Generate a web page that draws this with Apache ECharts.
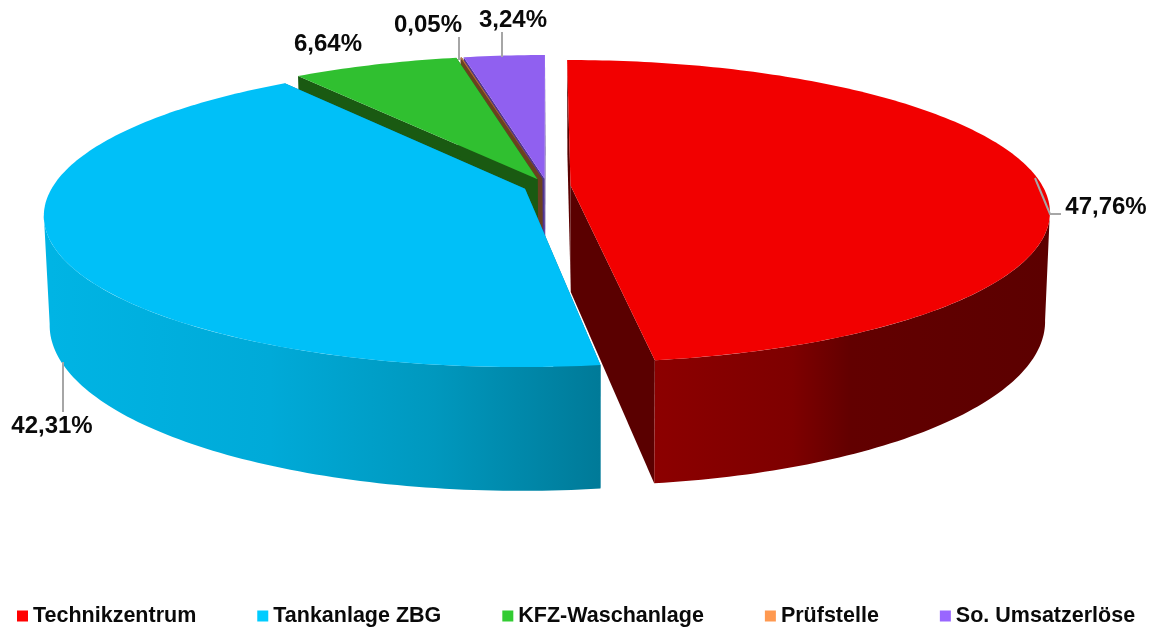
<!DOCTYPE html>
<html>
<head>
<meta charset="utf-8">
<style>html,body{margin:0;padding:0;background:#fff}#c{width:1160px;height:632px}</style>
<script src="https://cdn.jsdelivr.net/npm/echarts@6/dist/echarts.min.js"></script>
</head>
<body>
<div id="c"></div>
<script>
// ---- data ----
const categories = ['Technikzentrum', 'Tankanlage ZBG', 'KFZ-Waschanlage', 'Prüfstelle', 'So. Umsatzerlöse'];
const shares = [47.76, 42.31, 6.64, 0.05, 3.24];
const shareLabels = ['47,76%', '42,31%', '6,64%', '0,05%', '3,24%'];

// ---- styling ----
const legendColors = ['#FF0000', '#00CCFF', '#33CC33', '#FF9950', '#9966FF'];
const topColors = ['#F20000', '#00C0F8', '#30C030', '#B87038', '#9060F0'];
const faceColors = ['#5A0000', '#007A98', '#1A5A12', '#6A4020', '#503490'];
const sideStops = [
  [[0, '#8C0000'], [0.35, '#7E0000'], [0.5, '#620000'], [1, '#5C0000']],
  [[0, '#00B4E4'], [0.4, '#00AAD8'], [0.7, '#0098BE'], [1, '#007A98']],
  [[0, '#1A5A12'], [1, '#1A5A12']],
  [[0, '#6A4020'], [1, '#6A4020']],
  [[0, '#503490'], [1, '#503490']]
];
const sideSpan = [[655, 1047], [50, 600], [290, 540], [450, 545], [460, 546]];
const zBySlice = [4, 5, 3, 2, 1];

// ---- projection of the tilted disc (perspective), explode in disc radii ----
const explode = 0.05;
const topDisc = {cx: 547, cy: 186, rx: 472, ry: 147, k: 0.17};
const botDisc = {cx: 547.5, cy: 292.5, rx: 467, ry: 161, k: 0.17};

// ---- label layout: text anchor and leader line ----
const labelPos = [[1106, 207], [52, 426], [328, 44], [428, 25], [513, 20]];
const leaders = [
  [[1035, 178], [1050, 214], [1061, 214]],
  [[63, 362], [63, 412]],
  [],
  [[459, 37], [459, 60]],
  [[502, 32], [502, 57]]
];

const total = shares.reduce((a, b) => a + b, 0);
const starts = [];
shares.reduce((acc, v, i) => { starts[i] = acc; return acc + v; }, 0);

// u: right, v: back, both in disc radii
function project(d, u, v) {
  const w = 1 + d.k * v;
  return [d.cx + d.rx * u / w, d.cy - d.ry * v / w];
}
function shift(i, value) {
  const mid = (starts[i] + value / 2) / total * 2 * Math.PI;
  return [explode * Math.sin(mid), explode * Math.cos(mid)];
}
function arc(d, off, a0, a1) {
  const n = Math.max(2, Math.ceil(Math.abs(a1 - a0))), out = [];
  for (let j = 0; j <= n; j++) {
    const t = (a0 + (a1 - a0) * j / n) * Math.PI / 180;
    out.push(project(d, off[0] + Math.sin(t), off[1] + Math.cos(t)));
  }
  return out;
}
function poly(points, fill) {
  return {type: 'polygon', shape: {points}, silent: true, style: {fill, stroke: null}};
}
function renderSlice(i) {
  return function (params, api) {
    const value = api.value(0);
    const a0 = starts[i] / total * 360, a1 = (starts[i] + value) / total * 360;
    const off = shift(i, value);
    const topApex = project(topDisc, off[0], off[1]);
    const botApex = project(botDisc, off[0], off[1]);
    const topArc = arc(topDisc, off, a0, a1), botArc = arc(botDisc, off, a0, a1);
    const kids = [];
    // cut faces
    [[topArc[0], botArc[0]], [topArc[topArc.length - 1], botArc[botArc.length - 1]]].forEach(e => {
      kids.push(poly([topApex, e[0], e[1], botApex], faceColors[i]));
    });
    // curved wall: only the part that faces the viewer, closing the silhouette
    const limit = Math.acos(-topDisc.k) * 180 / Math.PI;
    const wa = Math.max(a0, limit), wb = Math.min(a1, 360 - limit);
    if (wb > wa) {
      kids.push(poly(arc(topDisc, off, wa, wb).concat(arc(botDisc, off, wa, wb).reverse()), {
        type: 'linear', global: true,
        x: sideSpan[i][0], y: 0, x2: sideSpan[i][1], y2: 0,
        colorStops: sideStops[i].map(s => ({offset: s[0], color: s[1]}))
      }));
    }
    // top face
    kids.push(poly([topApex].concat(topArc), topColors[i]));
    // leader
    if (leaders[i].length) {
      kids.push({type: 'polyline', shape: {points: leaders[i]},
        style: {fill: null, stroke: '#A6A6A6', lineWidth: 2}, silent: true});
    }
    // value label
    kids.push({type: 'text', silent: true, style: {
      x: labelPos[i][0], y: labelPos[i][1], text: shareLabels[i],
      fill: '#0A0A0A', font: 'bold 24px "Liberation Sans", Arial, sans-serif',
      align: 'center', verticalAlign: 'middle'
    }});
    return {type: 'group', children: kids};
  };
}

const chart = echarts.init(document.getElementById('c'), null, {renderer: 'canvas'});
chart.setOption({
  animation: false,
  backgroundColor: '#fff',
  legend: {
    left: 12, top: 600, right: 0,
    orient: 'horizontal',
    itemWidth: 11, itemHeight: 11, itemGap: 61,
    icon: 'rect', selectedMode: false,
    textStyle: {fontFamily: '"Liberation Sans", Arial, sans-serif', fontWeight: 'bold', fontSize: 21.5, color: '#0A0A0A'},
    data: categories.map(name => ({name}))
  },
  series: categories.map((name, i) => ({
    type: 'custom',
    name,
    coordinateSystem: 'none',
    z: zBySlice[i],
    silent: true,
    itemStyle: {color: legendColors[i]},
    data: [[shares[i]]],
    renderItem: renderSlice(i)
  }))
});
</script>
</body>
</html>
